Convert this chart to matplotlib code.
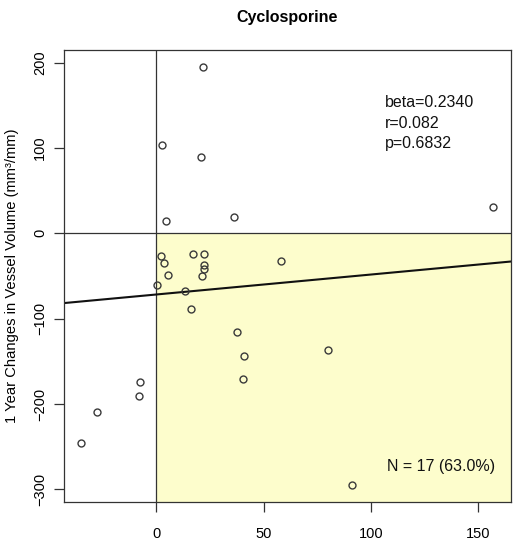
import numpy as np
import matplotlib.pyplot as plt

plt.rcParams['font.family'] = ['Liberation Sans', 'DejaVu Sans']

# baseline value (x) vs 1 year change (y)
x = [21.6, 2.5, 20.8, 4.5, 36.2, 157.0,
     2.2, 3.7, 5.6, 0.3, 17.2, 22.1, 22.1, 22.1, 21.2, 13.5, 16.2, 58.0, 37.5,
     40.9, 40.4, 80.0, 91.3,
     -7.7, -8.1, -27.6, -34.9]
y = [194.6, 103.9, 89.1, 14.4, 19.1, 31.2,
     -26.2, -34.8, -48.9, -60.6, -24.3, -24.3, -37.5, -41.5, -49.7, -67.3, -89.1, -32.8, -115.7,
     -143.8, -170.8, -137.2, -295.1,
     -174.3, -191.1, -209.5, -245.8]

beta = 0.2340
intercept = -71.7
stats = ['beta=0.2340', 'r=0.082', 'p=0.6832']
n_label = 'N = 17 (63.0%)'

xlim = (-43.0, 165.1)
ylim = (-314.6, 214.9)

fig = plt.figure(figsize=(5.17, 5.47), dpi=100)
ax = fig.add_axes([0.1238, 0.0828, 0.864, 0.8258])

# yellow quadrant x>0, y<0
ax.fill_between([0, xlim[1]], ylim[0], 0, color='#fdfdcc', lw=0, zorder=0)
ax.axhline(0, color='#333333', lw=0.9, zorder=1)
ax.axvline(0, color='#333333', lw=0.9, zorder=1)

xx = np.array(xlim)
ax.plot(xx, intercept + beta * xx, color='#111111', lw=1.5, zorder=2)

ax.plot(x, y, 'o', ms=5, mfc='none', mec='#3a3a3a', mew=1.0, zorder=3)

ax.set_xlim(xlim)
ax.set_ylim(ylim)
ax.set_xticks([0, 50, 100, 150])
ax.set_yticks([-300, -200, -100, 0, 100, 200])
ax.tick_params(direction='out', length=7, width=0.9, color='#333333',
               labelsize=10.5)
ax.tick_params(axis='x', pad=11)
ax.tick_params(axis='y', pad=5)
for lab in ax.get_yticklabels():
    lab.set_rotation(90)
    lab.set_va('center')
for s in ax.spines.values():
    s.set_color('#333333')
    s.set_linewidth(0.9)

# y label placed by hand so it stays inside the figure
fig.text(0.024, 0.4963, '1 Year Changes in Vessel Volume (mm³/mm)', fontsize=10.6,
         rotation=90, ha='center', va='center')
ax.set_title('Cyclosporine', fontsize=11.5, fontweight='bold', pad=20.5)

for i, s in enumerate(stats):
    ax.text(106.6, 153.1 - i * 23.8, s, fontsize=11.5, va='center', ha='left', color='#111111')
ax.text(157.8, -273.6, n_label, fontsize=11.5, va='center', ha='right', color='#111111')

fig.savefig('out.png', dpi=100)
